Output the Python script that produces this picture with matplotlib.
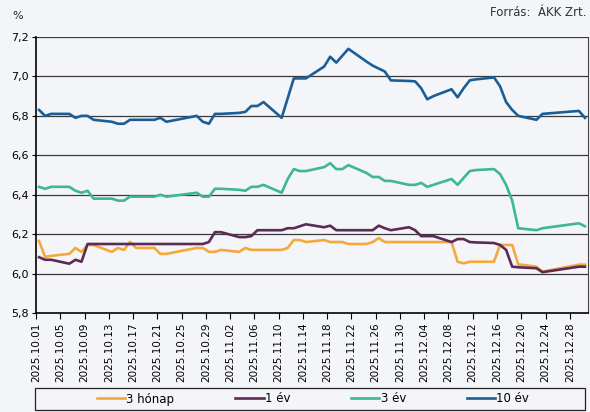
import matplotlib
matplotlib.use("Agg")
import matplotlib.pyplot as plt
import matplotlib.ticker as mticker
from matplotlib.patches import Rectangle
import pandas as pd

dates = ["2025-10-01","2025-10-02","2025-10-03","2025-10-06","2025-10-07","2025-10-08","2025-10-09",
         "2025-10-10","2025-10-13","2025-10-14","2025-10-15","2025-10-16","2025-10-17","2025-10-20",
         "2025-10-21","2025-10-22","2025-10-27","2025-10-28","2025-10-29","2025-10-30","2025-10-31",
         "2025-11-03","2025-11-04","2025-11-05","2025-11-06","2025-11-07","2025-11-10","2025-11-11",
         "2025-11-12","2025-11-13","2025-11-14","2025-11-17","2025-11-18","2025-11-19","2025-11-20",
         "2025-11-21","2025-11-24","2025-11-25","2025-11-26","2025-11-27","2025-11-28",
         "2025-12-01","2025-12-02","2025-12-03","2025-12-04","2025-12-05","2025-12-08","2025-12-09",
         "2025-12-10","2025-12-11","2025-12-12","2025-12-15","2025-12-16","2025-12-17","2025-12-18",
         "2025-12-19","2025-12-22","2025-12-23","2025-12-29","2025-12-30"]

y_3m = [6.165, 6.085, 6.09, 6.10, 6.13, 6.11, 6.145, 6.145, 6.11, 6.13, 6.12, 6.16, 6.13, 6.13, 6.10, 6.10,
        6.13, 6.13, 6.11, 6.11, 6.12,
        6.11, 6.13, 6.12, 6.12, 6.12, 6.12, 6.13, 6.17, 6.17, 6.16, 6.17, 6.16, 6.16, 6.16, 6.15, 6.15,
        6.16, 6.18, 6.16, 6.16,
        6.16, 6.16, 6.16, 6.16, 6.16, 6.16, 6.06, 6.052, 6.06, 6.06, 6.06, 6.145, 6.145, 6.145, 6.047,
        6.035, 6.01, 6.045, 6.045]

y_1y = [6.083, 6.07, 6.07, 6.05, 6.07, 6.06, 6.15, 6.15, 6.15, 6.15, 6.15, 6.15, 6.15, 6.15, 6.15, 6.15,
        6.15, 6.15, 6.16, 6.21, 6.21,
        6.185, 6.185, 6.19, 6.22, 6.22, 6.22, 6.23, 6.23, 6.24, 6.25, 6.235, 6.243, 6.22, 6.22, 6.22, 6.22,
        6.22, 6.243, 6.23, 6.22,
        6.235, 6.22, 6.19, 6.19, 6.19, 6.16, 6.175, 6.175, 6.16, 6.158, 6.155, 6.145, 6.12, 6.035, 6.032,
        6.027, 6.007, 6.035, 6.035]

y_3y = [6.44, 6.43, 6.44, 6.44, 6.42, 6.41, 6.42, 6.38, 6.38, 6.37, 6.37, 6.39, 6.39, 6.39, 6.40, 6.39,
        6.41, 6.39, 6.39, 6.43, 6.43,
        6.425, 6.42, 6.44, 6.44, 6.45, 6.41, 6.48, 6.53, 6.52, 6.52, 6.54, 6.56, 6.53, 6.53, 6.55, 6.51,
        6.49, 6.49, 6.47, 6.47,
        6.45, 6.45, 6.46, 6.44, 6.45, 6.48, 6.45, 6.485, 6.52, 6.525, 6.53, 6.505, 6.45, 6.37, 6.23,
        6.22, 6.23, 6.255, 6.24]

y_10y = [6.83, 6.80, 6.81, 6.81, 6.79, 6.80, 6.80, 6.78, 6.77, 6.76, 6.76, 6.78, 6.78, 6.78, 6.79, 6.77,
         6.80, 6.77, 6.76, 6.81, 6.81,
         6.815, 6.82, 6.85, 6.85, 6.87, 6.79, 6.89, 6.99, 6.99, 6.99, 7.05, 7.10, 7.07, 7.105, 7.14, 7.075,
         7.055, 7.04, 7.025, 6.98,
         6.977, 6.975, 6.94, 6.884, 6.90, 6.935, 6.894, 6.94, 6.98, 6.985, 6.995, 6.95, 6.87, 6.83, 6.80,
         6.78, 6.81, 6.825, 6.79]

series_names = ["3 hónap", "1 év", "3 év", "10 év"]
series_colors = ["#F5A93B", "#5B2A55", "#3DB890", "#1B5E97"]
y_ticks = [5.8, 6.0, 6.2, 6.4, 6.6, 6.8, 7.0, 7.2]

bg = "#F3F5F8"
fig = plt.figure(figsize=(5.9, 4.12), dpi=100, facecolor=bg)
ax = fig.add_axes([36/590, 1-313/412, (588-36)/590, (313-37)/412])
ax.set_facecolor(bg)

x = pd.to_datetime(dates) + pd.Timedelta(hours=12)
for vals, name, col in zip([y_3m, y_1y, y_3y, y_10y], series_names, series_colors):
    ax.plot(x, vals, color=col, lw=1.9, label=name, solid_joinstyle="round", zorder=3)

ax.set_ylim(5.8, 7.2)
ax.set_yticks(y_ticks)
ax.yaxis.set_major_formatter(mticker.FuncFormatter(lambda v, p: f"{v:.1f}".replace(".", ",")))
for v in y_ticks[1:]:
    ax.axhline(v, color="#3a3a3a", lw=0.9, zorder=1)

start = pd.Timestamp("2025-10-01")
ax.set_xlim(start, pd.Timestamp("2025-12-31"))
xt = [start + pd.Timedelta(days=4*k) for k in range(23)]
ax.set_xticks(xt)
ax.set_xticklabels([d.strftime("%Y.%m.%d") for d in xt], rotation=90, fontsize=7.5)

ax.spines["top"].set_visible(False)
ax.spines["right"].set_color("#444444")
ax.spines["left"].set_color("black")
ax.spines["left"].set_linewidth(1.2)
ax.spines["bottom"].set_color("black")
ax.spines["bottom"].set_linewidth(1.2)
ax.tick_params(axis="y", labelsize=8, length=3, direction="out", pad=2)
ax.tick_params(axis="x", length=4, direction="out", pad=3)

fig.text(12/590, 1-16/412, "%", fontsize=8, ha="left", va="center", color="#222222")
fig.text(587/590, 1-13/412, "Forrás:  ÁKK Zrt.", fontsize=8.5, ha="right", va="center", color="#333333")

box = Rectangle((35/590, 2/412), 550/590, 22/412, transform=fig.transFigure,
                facecolor=bg, edgecolor="#222222", lw=0.9, zorder=0)
fig.patches.append(box)

leg = fig.legend(loc="center", bbox_to_anchor=(313/590, 13/412), ncol=4, fontsize=8.5, frameon=False,
                 handlelength=2.4, handletextpad=0.1, columnspacing=5.15, borderaxespad=0)

fig.savefig("out.png", dpi=100, facecolor=bg)
